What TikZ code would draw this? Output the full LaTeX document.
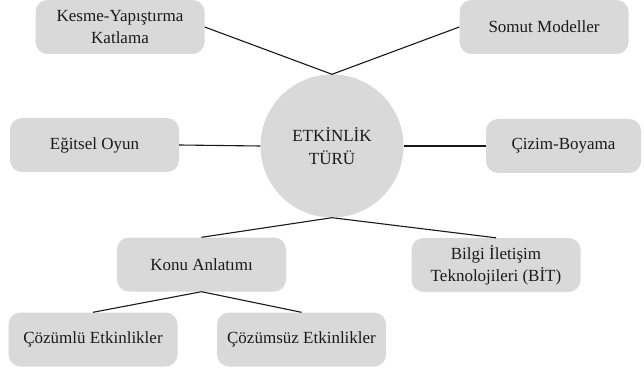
\documentclass[tikz,border=0pt]{standalone}
\usepackage{fontspec}
\setmainfont{Liberation Serif}
\definecolor{boxgray}{HTML}{D9D9D9}
\definecolor{txt}{HTML}{1A1A1A}
\begin{document}
\begin{tikzpicture}[x=1pt,y=-1pt,
  box/.style={fill=boxgray, rounded corners=12pt, minimum width=169pt, minimum height=54pt,
    inner sep=0pt, align=center, text=txt, font=\fontsize{17}{22}\selectfont},
  hub/.style={circle, fill=boxgray, minimum size=143pt, inner sep=0pt, align=center,
    text=txt, font=\fontsize{17}{23}\selectfont},
  link/.style={draw=black!90, line width=1.1pt}]
\useasboundingbox[fill=white] (0,0) rectangle (644,371);
\node[hub] (c) at (332,146) {ETKİNLİK\\TÜRÜ};
\node[box] (kesme) at (120,27) {Kesme-Yapıştırma\\Katlama};
\node[box] (somut) at (544,27) {Somut Modeller};
\node[box] (egitsel) at (94.5,145) {Eğitsel Oyun};
\node[box, minimum width=155pt] (cizim) at (563.5,146) {Çizim-Boyama};
\node[box] (konu) at (201.5,264.5) {Konu Anlatımı};
\node[box] (bit) at (496,265) {Bilgi İletişim\\Teknolojileri (BİT)};
\node[box] (cozumlu) at (93,339.5) {Çözümlü Etkinlikler};
\node[box] (cozumsuz) at (301.5,339.5) {Çözümsüz Etkinlikler};
\draw[link] (kesme.east) -- (c.north);
\draw[link] (somut.west) -- (c.north);
\draw[link] (egitsel.east) -- (c.west);
\draw[link] (c.east) -- (cizim.west);
\draw[link] (c.south) -- (konu.north);
\draw[link] (c.south) -- (bit.north);
\draw[link] (konu.south) -- (cozumlu.north);
\draw[link] (konu.south) -- (cozumsuz.north);
\end{tikzpicture}
\end{document}
